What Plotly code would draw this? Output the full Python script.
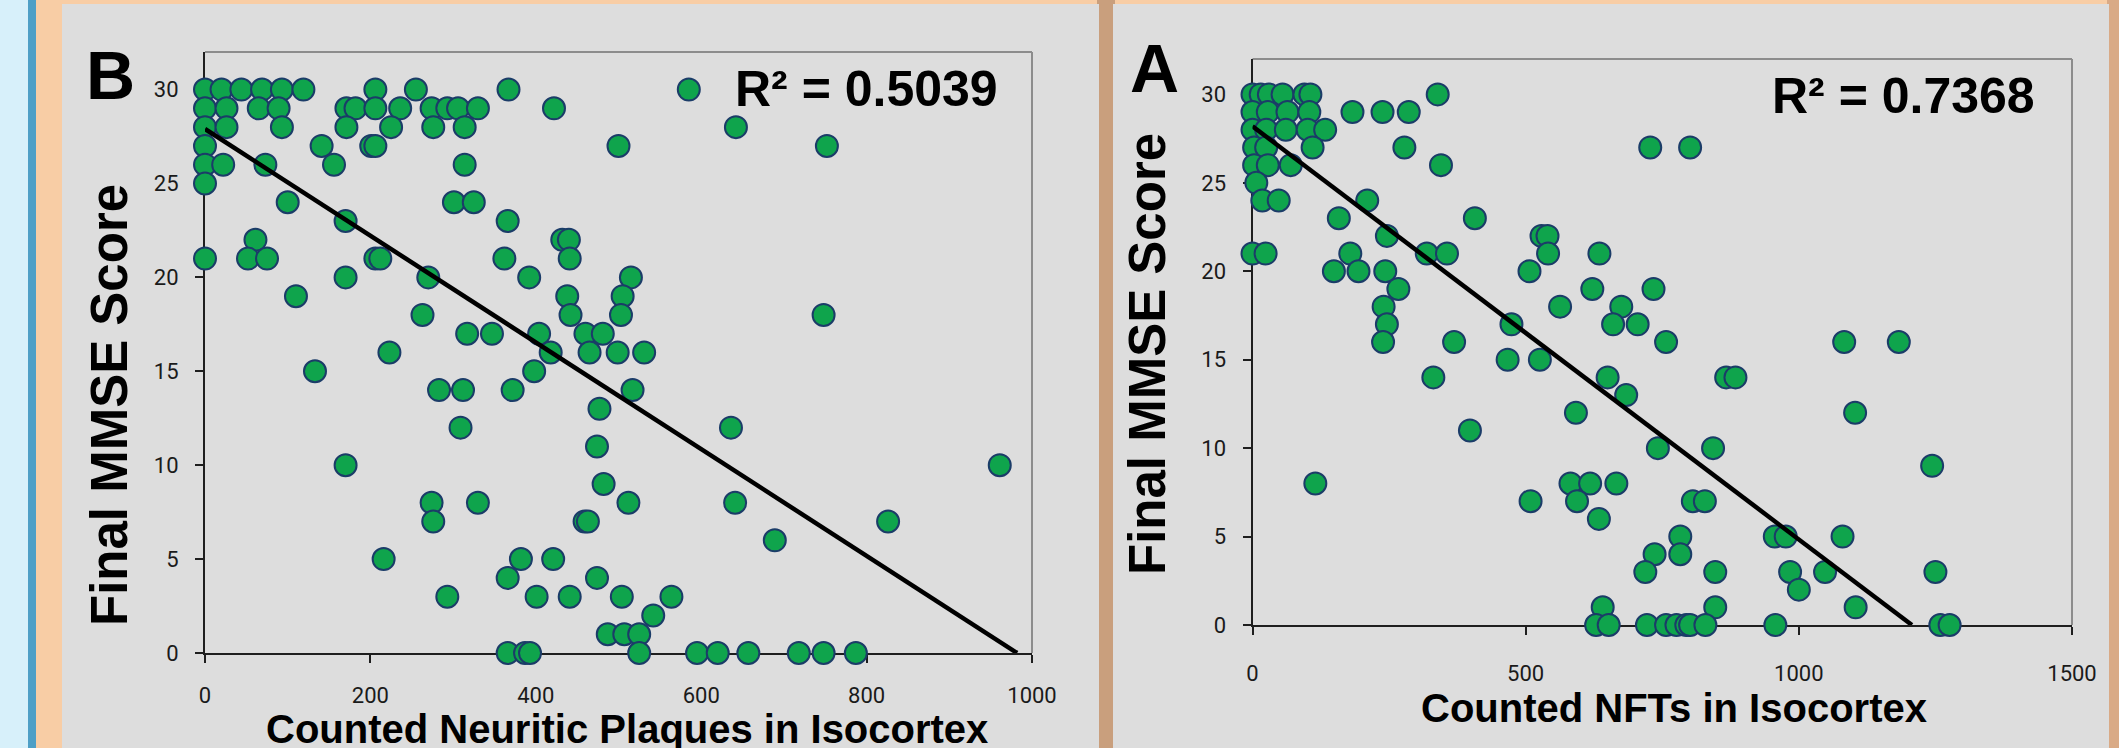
import plotly.graph_objects as go

W, H = 2119, 748

# ---------------- Data: panel B (Neuritic plaques vs MMSE) ----------------
B_plaques = [
    0, 20, 44, 69, 93, 119, 206, 255, 367, 585,                 # 30
    0, 26, 65, 89, 171, 182, 206, 236, 274, 293, 306, 330, 422, # 29
    0, 26, 93, 171, 225, 276, 314, 642,                         # 28
    0, 141, 201, 206, 500, 752,                                 # 27
    0, 22, 73, 156, 314,                                        # 26
    0,                                                          # 25
    100, 301, 325,                                              # 24
    170, 366,                                                   # 23
    61, 432, 440,                                               # 22
    0, 52, 75, 206, 212, 362, 441,                              # 21
    170, 270, 392, 515,                                         # 20
    110, 438, 505,                                              # 19
    263, 442, 503, 748,                                         # 18
    317, 347, 404, 460, 481,                                    # 17
    223, 418, 465, 499, 531,                                    # 16
    133, 398,                                                   # 15
    283, 312, 372, 517,                                         # 14
    477,                                                        # 13
    309, 636,                                                   # 12
    474,                                                        # 11
    170, 961,                                                   # 10
    482,                                                        # 9
    274, 330, 512, 641,                                         # 8
    276, 459, 463, 826,                                         # 7
    689,                                                        # 6
    216, 382, 421,                                              # 5
    366, 474,                                                   # 4
    293, 401, 441, 504, 564,                                    # 3
    542,                                                        # 2
    487, 507, 525,                                              # 1
    366, 387, 393, 525, 595, 620, 657, 718, 748, 787,           # 0
]
B_mmse = (
    [30] * 10 + [29] * 13 + [28] * 8 + [27] * 6 + [26] * 5 + [25] * 1 +
    [24] * 3 + [23] * 2 + [22] * 3 + [21] * 7 + [20] * 4 + [19] * 3 +
    [18] * 4 + [17] * 5 + [16] * 5 + [15] * 2 + [14] * 4 + [13] * 1 +
    [12] * 2 + [11] * 1 + [10] * 2 + [9] * 1 + [8] * 4 + [7] * 4 +
    [6] * 1 + [5] * 3 + [4] * 2 + [3] * 5 + [2] * 1 + [1] * 3 + [0] * 10
)
B_trend_x = [0, 982]
B_trend_y = [27.9, 0]
B_r2 = "R² = 0.5039"
B_xticks = [0, 200, 400, 600, 800, 1000]

# ---------------- Data: panel A (NFTs vs MMSE) ----------------
A_nfts = [
    0, 15, 30, 55, 95, 106, 339,                 # 30
    0, 28, 64, 104, 183, 238, 286,               # 29
    0, 25, 61, 101, 133,                         # 28
    3, 25, 110, 278, 728, 801,                   # 27
    3, 28, 70, 345,                              # 26
    7,                                           # 25
    18, 48, 210,                                 # 24
    158, 407,                                    # 23
    246, 529, 540,                               # 22
    0, 24, 179, 319, 356, 541, 635,              # 21
    149, 194, 243, 507,                          # 20
    267, 622, 734,                               # 19
    240, 563, 675,                               # 18
    246, 474, 660, 705,                          # 17
    239, 369, 757, 1083, 1183,                   # 16
    467, 526,                                    # 15
    331, 650, 867, 884,                          # 14
    684,                                         # 13
    592, 1103,                                   # 12
    398,                                         # 11
    742, 843,                                    # 10
    1244,                                        # 9
    115, 582, 618, 666,                          # 8
    509, 594, 806, 828,                          # 7
    634,                                         # 6
    783, 956, 976, 1080,                         # 5
    736, 783,                                    # 4
    719, 847, 984, 1048, 1250,                   # 3
    1000,                                        # 2
    641, 847, 1104,                              # 1
    629, 652, 722, 757, 776, 794, 801, 829, 957, 1259, 1276,  # 0
]
A_mmse = (
    [30] * 7 + [29] * 7 + [28] * 5 + [27] * 6 + [26] * 4 + [25] * 1 +
    [24] * 3 + [23] * 2 + [22] * 3 + [21] * 7 + [20] * 4 + [19] * 3 +
    [18] * 3 + [17] * 4 + [16] * 5 + [15] * 2 + [14] * 4 + [13] * 1 +
    [12] * 2 + [11] * 1 + [10] * 2 + [9] * 1 + [8] * 4 + [7] * 4 +
    [6] * 1 + [5] * 4 + [4] * 2 + [3] * 5 + [2] * 1 + [1] * 3 + [0] * 11
)
A_trend_x = [0, 1207]
A_trend_y = [28.2, 0]
A_r2 = "R² = 0.7368"
A_xticks = [0, 500, 1000, 1500]

y_ticks = [0, 5, 10, 15, 20, 25, 30]
y_title = "Final MMSE Score"
B_xtitle = "Counted Neuritic Plaques in Isocortex"
A_xtitle = "Counted NFTs in Isocortex"


def PX(x):
    return x / W


def PY(y):
    return 1 - y / H


MARKER = dict(size=22, color="#0fa44c", line=dict(color="#1b3c68", width=2))
BOLD = "Liberation Sans, Arial, sans-serif"
TICKFONT = dict(family="Roboto, Open Sans, sans-serif", size=22, color="#1a1a1a")

fig = go.Figure()
fig.add_trace(go.Scatter(x=B_plaques, y=B_mmse, mode="markers", marker=MARKER,
                         cliponaxis=False, xaxis="x", yaxis="y", showlegend=False))
fig.add_trace(go.Scatter(x=B_trend_x, y=B_trend_y, mode="lines",
                         line=dict(color="black", width=4.5), cliponaxis=False,
                         xaxis="x", yaxis="y", showlegend=False))
fig.add_trace(go.Scatter(x=A_nfts, y=A_mmse, mode="markers", marker=MARKER,
                         cliponaxis=False, xaxis="x2", yaxis="y2", showlegend=False))
fig.add_trace(go.Scatter(x=A_trend_x, y=A_trend_y, mode="lines",
                         line=dict(color="black", width=4.5), cliponaxis=False,
                         xaxis="x2", yaxis="y2", showlegend=False))

axis_common = dict(showgrid=False, zeroline=False, showline=True, linecolor="#1e1e1e",
                   linewidth=2, ticks="outside", ticklen=8, tickwidth=2,
                   tickcolor="#1e1e1e", tickfont=TICKFONT, layer="below traces",
                   automargin=False)

fig.update_layout(
    width=W, height=H, autosize=False,
    margin=dict(l=0, r=0, t=0, b=0, pad=0, autoexpand=False),
    paper_bgcolor="#dddddd", plot_bgcolor="rgba(0,0,0,0)",
    xaxis=dict(domain=[PX(205), PX(1032)], range=[0, 1000], tickvals=B_xticks,
               anchor="y", ticklabelstandoff=14, **axis_common),
    yaxis=dict(domain=[PY(653), PY(52)], range=[0, 32], tickvals=y_ticks,
               anchor="x", ticklabelstandoff=12, **axis_common),
    xaxis2=dict(domain=[PX(1252.5), PX(2072)], range=[0, 1500], tickvals=A_xticks,
                anchor="y2", ticklabelstandoff=20, **axis_common),
    yaxis2=dict(domain=[PY(625), PY(59)], range=[0, 32], tickvals=y_ticks,
                anchor="x2", ticklabelstandoff=12, **axis_common),
)

shapes = []


def rect(x0, y0, x1, y1, color):
    shapes.append(dict(type="rect", xref="paper", yref="paper",
                       x0=PX(x0), x1=PX(x1), y0=PY(y1), y1=PY(y0),
                       fillcolor=color, line=dict(width=0), layer="below"))


rect(0, 0, 36, H, "#d7f0fa")
rect(28, 0, 36, H, "#4e9fc6")
rect(36, 0, W, H, "#f8cda5")
rect(1097, 0, 1115, H, "#c99f7d")
rect(2107, 0, W, H, "#d9aa86")
rect(62, 4, 1099, H, "#dddddd")
rect(1113, 4, 2109, H, "#dddddd")

# top and right frame of each plot area (grey)
for xr, yr in (("x domain", "y domain"), ("x2 domain", "y2 domain")):
    shapes.append(dict(type="line", xref=xr, yref=yr, x0=0, x1=1, y0=1, y1=1,
                       line=dict(color="#8c8c8c", width=2), layer="below"))
    shapes.append(dict(type="line", xref=xr, yref=yr, x0=1, x1=1, y0=0, y1=1,
                       line=dict(color="#8c8c8c", width=2), layer="below"))

fig.update_layout(shapes=shapes)


def ann(text, x, y, size, angle=0, family=BOLD):
    fig.add_annotation(text=text, x=PX(x), y=PY(y), xref="paper", yref="paper",
                       xanchor="center", yanchor="middle", showarrow=False,
                       textangle=angle, font=dict(family=family, size=size, color="black"))


ann("<b>B</b>", 110, 75, 68)
ann("<b>A</b>", 1154, 68, 68)
ann("<b>" + y_title + "</b>", 109, 405, 51, angle=-90)
ann("<b>" + y_title + "</b>", 1147, 354, 51, angle=-90)
ann("<b>" + B_xtitle + "</b>", 627, 729, 40)
ann("<b>" + A_xtitle + "</b>", 1674, 708, 40)
ann("<b>" + B_r2 + "</b>", 866, 89, 50)
ann("<b>" + A_r2 + "</b>", 1903, 96, 50)

fig.write_html(
    "out.html",
    config={"displayModeBar": False},
    post_script=(
        "document.body.style.margin='0';"
        "document.body.style.overflow='hidden';"
        "document.documentElement.style.overflow='hidden';"
    ),
)
